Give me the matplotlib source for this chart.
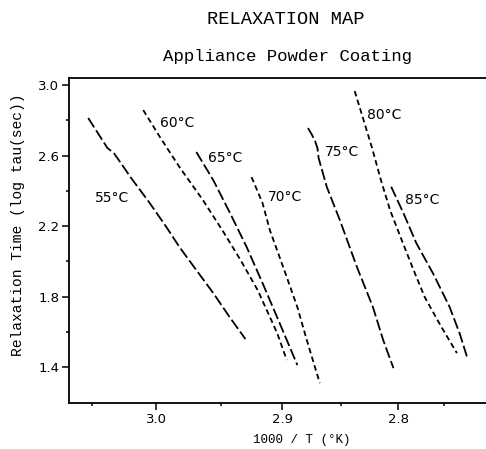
import numpy as np
import matplotlib
matplotlib.use("Agg")
import matplotlib.pyplot as plt
from matplotlib.ticker import FixedLocator, NullFormatter

plt.rcParams['lines.scale_dashes'] = False

# ---- data: 1000/T (1/K) vs log tau (sec) for each isotherm ----
x55 = [3.053, 3.041, 3.038, 3.033, 3.028, 3.020, 3.005, 2.992, 2.982, 2.969, 2.956, 2.943, 2.930]
y55 = [2.813, 2.677, 2.643, 2.614, 2.563, 2.478, 2.331, 2.194, 2.081, 1.950, 1.820, 1.684, 1.559]

x60 = [3.010, 2.997, 2.982, 2.964, 2.948, 2.934, 2.920, 2.904, 2.896]
y60 = [2.858, 2.705, 2.535, 2.348, 2.166, 2.007, 1.837, 1.593, 1.440]

x65 = [2.969, 2.956, 2.943, 2.929, 2.916, 2.902, 2.887]
y65 = [2.620, 2.461, 2.279, 2.081, 1.877, 1.650, 1.411]

x70 = [2.925, 2.916, 2.910, 2.899, 2.887, 2.879, 2.868]
y70 = [2.478, 2.331, 2.177, 1.967, 1.740, 1.553, 1.309]

x75 = [2.878, 2.875, 2.872, 2.870, 2.869, 2.862, 2.851, 2.836, 2.822, 2.813, 2.804]
y75 = [2.756, 2.722, 2.682, 2.643, 2.586, 2.421, 2.234, 1.967, 1.740, 1.553, 1.394]

x80 = [2.838, 2.831, 2.823, 2.815, 2.807, 2.796, 2.784, 2.771, 2.754, 2.736]
y80 = [2.966, 2.818, 2.648, 2.461, 2.291, 2.121, 1.962, 1.797, 1.638, 1.479]

x85 = [2.806, 2.794, 2.780, 2.762, 2.744, 2.733, 2.725]
y85 = [2.423, 2.272, 2.102, 1.932, 1.742, 1.591, 1.458]

labels = ['55°C', '60°C', '65°C', '70°C', '75°C', '80°C', '85°C']
label_x = [3.048, 2.997, 2.960, 2.912, 2.864, 2.827, 2.792]
label_y = [2.359, 2.784, 2.586, 2.365, 2.620, 2.830, 2.348]

x_major = [3.0, 2.9, 2.8]
x_minor = [3.05, 2.95, 2.85, 2.75]
y_major = [1.4, 1.8, 2.2, 2.6, 3.0]
y_minor = [1.6, 2.0, 2.4, 2.8]

# plotter calibration of the 1000/T axis (value -> relative distance along axis)
cal_val = np.array([2.65, 2.75, 2.80, 2.85, 2.90, 2.95, 3.00, 3.05, 3.15])
cal_pos = np.array([-444., -352., -306., -249., -190., -129., -64., 0., 128.])


def fwd(v):
    return np.interp(np.asarray(v, dtype=float), cal_val, cal_pos)


def inv(u):
    return np.interp(np.asarray(u, dtype=float), cal_pos, cal_val)


W, H = 486, 449
fig = plt.figure(figsize=(W / 100, H / 100), dpi=100)
ax = fig.add_axes([69 / W, (H - 403) / H, (490 - 69) / W, (403 - 78) / H])
ax.set_xscale('function', functions=(fwd, inv))

long_dash = (0, (8.0, 2.5))
short_dash = (0, (4.0, 2.5))
series = [
    (x55, y55, long_dash),
    (x60, y60, short_dash),
    (x65, y65, long_dash),
    (x70, y70, short_dash),
    (x75, y75, long_dash),
    (x80, y80, short_dash),
    (x85, y85, long_dash),
]
for xs, ys, ls in series:
    ax.plot(xs, ys, color='black', lw=1.3, linestyle=ls)

for t, lx, ly in zip(labels, label_x, label_y):
    ax.text(lx, ly, t, ha='left', va='center', fontsize=10,
            family='DejaVu Sans', color='black')

ax.set_xlim(3.068, 2.700)
ax.set_ylim(1.196, 3.040)

ax.xaxis.set_major_locator(FixedLocator(x_major))
ax.xaxis.set_minor_locator(FixedLocator(x_minor))
ax.yaxis.set_major_locator(FixedLocator(y_major))
ax.yaxis.set_minor_locator(FixedLocator(y_minor))
ax.set_xticklabels([f'{v:.1f}' for v in x_major])
ax.set_yticklabels([f'{v:.1f}' for v in y_major])
ax.xaxis.set_minor_formatter(NullFormatter())

ax.tick_params(which='major', direction='out', length=5, width=1.1,
               labelsize=9.5, pad=2)
ax.tick_params(which='minor', direction='out', length=2.2, width=1.1)
for lab in ax.get_xticklabels() + ax.get_yticklabels():
    lab.set_family('DejaVu Sans')

for s in ax.spines.values():
    s.set_linewidth(1.3)

mono = 'Liberation Mono'
fig.text(286 / W, 1 - 20 / H, 'RELAXATION MAP', ha='center', va='center',
         family=mono, fontsize=13.5)
fig.text(287 / W, 1 - 56 / H, 'Appliance Powder Coating', ha='center',
         va='center', family=mono, fontsize=12.5)
fig.text(302 / W, 1 - 440 / H, '1000 / T (°K)', ha='center', va='center',
         family=mono, fontsize=9)
fig.text(18 / W, 1 - 225 / H, 'Relaxation Time (log tau(sec))', ha='center',
         va='center', rotation=90, family=mono, fontsize=10.5)

fig.savefig('out.png', dpi=100)
